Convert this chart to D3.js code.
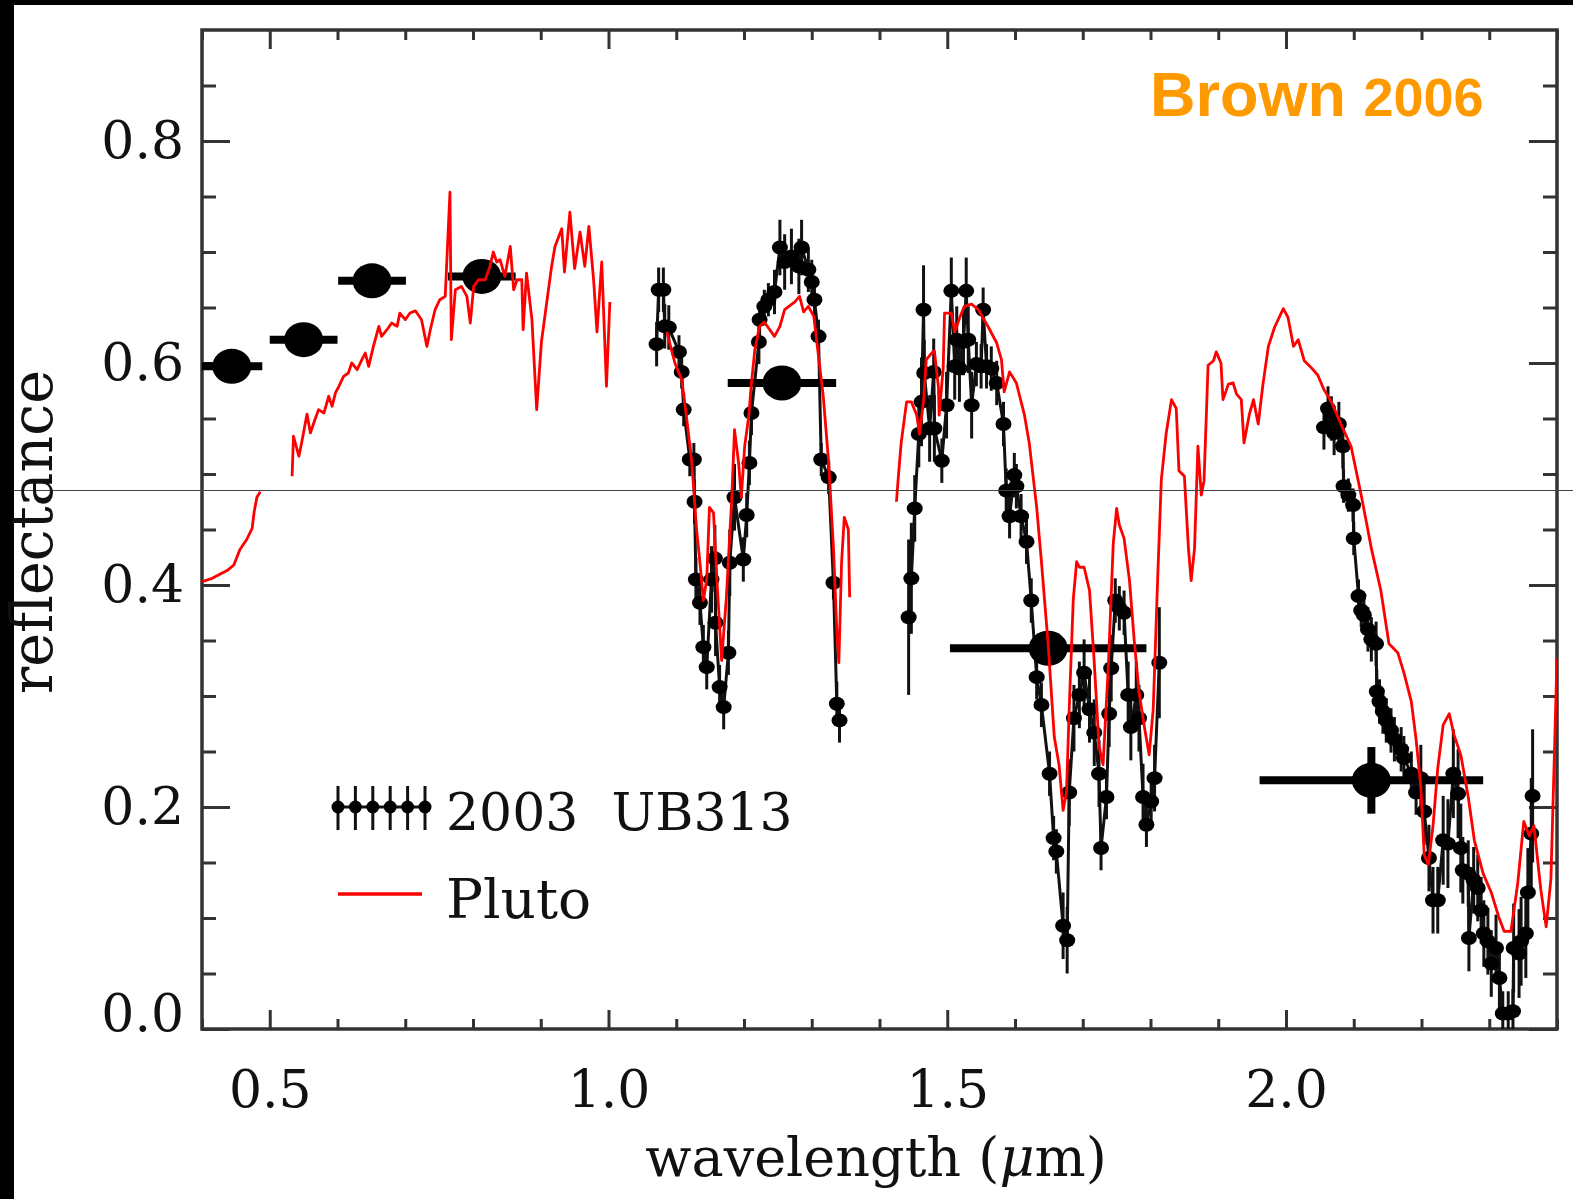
<!DOCTYPE html>
<html>
<head>
<meta charset="utf-8">
<script src="https://cdn.jsdelivr.net/npm/d3@7/dist/d3.min.js"></script>
<style>
    html, body { margin: 0; padding: 0; background: #fff; }
    svg { display: block; }
    .serif { font-family: "DejaVu Serif", "Liberation Serif", serif; fill: #111; }
</style>
</head>
<body>
<div id="root"></div>
<script>
// --- data (wavelength in µm, reflectance) ---

const xMajorTicks = [0.5, 1.0, 1.5, 2.0]
const yMajorTicks = [0.0, 0.2, 0.4, 0.6, 0.8]

// Pluto spectrum, four pieces with gaps between them
const plutoVis1 = [
    [0.400, 0.403], [0.415, 0.406], [0.437, 0.413], [0.447, 0.418], [0.456, 0.432],
    [0.466, 0.441], [0.474, 0.451], [0.477, 0.466], [0.481, 0.479], [0.486, 0.484]
]
const plutoVis2 = [
    [0.533, 0.498], [0.535, 0.534], [0.543, 0.516], [0.547, 0.528], [0.555, 0.554],
    [0.560, 0.537], [0.565, 0.546], [0.572, 0.558], [0.580, 0.555], [0.587, 0.570],
    [0.592, 0.561], [0.597, 0.573], [0.602, 0.579], [0.609, 0.588], [0.616, 0.591],
    [0.621, 0.600], [0.629, 0.594], [0.636, 0.603], [0.641, 0.609], [0.646, 0.597],
    [0.653, 0.615], [0.661, 0.633], [0.665, 0.624], [0.673, 0.630], [0.680, 0.636],
    [0.688, 0.633], [0.692, 0.645], [0.700, 0.639], [0.707, 0.645], [0.715, 0.647],
    [0.724, 0.639], [0.732, 0.615], [0.737, 0.630], [0.744, 0.648], [0.751, 0.657],
    [0.759, 0.660], [0.766, 0.754], [0.768, 0.621], [0.774, 0.666], [0.783, 0.669],
    [0.791, 0.660], [0.796, 0.636], [0.801, 0.669], [0.808, 0.675], [0.818, 0.675],
    [0.825, 0.687], [0.830, 0.700], [0.835, 0.691], [0.840, 0.693], [0.847, 0.678],
    [0.855, 0.705], [0.860, 0.666], [0.865, 0.675], [0.872, 0.675], [0.874, 0.630],
    [0.879, 0.681], [0.887, 0.639], [0.894, 0.558],
    [0.901, 0.619], [0.916, 0.687], [0.921, 0.705], [0.931, 0.721], [0.935, 0.682],
    [0.943, 0.736], [0.950, 0.685], [0.958, 0.718], [0.965, 0.687], [0.971, 0.723],
    [0.978, 0.675], [0.983, 0.628], [0.990, 0.691], [0.997, 0.579], [1.002, 0.655]
]
const plutoJ = [
    [1.086, 0.628], [1.098, 0.600], [1.108, 0.585], [1.115, 0.552], [1.123, 0.510],
    [1.130, 0.450], [1.135, 0.420], [1.140, 0.386], [1.145, 0.405], [1.149, 0.470],
    [1.155, 0.465], [1.160, 0.405], [1.167, 0.332], [1.174, 0.389], [1.182, 0.479],
    [1.186, 0.540], [1.192, 0.510], [1.196, 0.479], [1.201, 0.525], [1.207, 0.552],
    [1.211, 0.582], [1.216, 0.612], [1.223, 0.633], [1.230, 0.637], [1.238, 0.630],
    [1.245, 0.624], [1.253, 0.633], [1.260, 0.648], [1.275, 0.655], [1.282, 0.660],
    [1.288, 0.646], [1.295, 0.651], [1.303, 0.642], [1.310, 0.606], [1.317, 0.570],
    [1.325, 0.510], [1.332, 0.434], [1.337, 0.359], [1.340, 0.330], [1.344, 0.420],
    [1.348, 0.461], [1.354, 0.450], [1.356, 0.389]
]
const plutoHK = [
    [1.425, 0.475], [1.428, 0.499], [1.432, 0.528], [1.440, 0.565], [1.447, 0.565],
    [1.455, 0.553], [1.459, 0.536], [1.465, 0.565], [1.469, 0.603], [1.477, 0.609],
    [1.481, 0.611], [1.487, 0.578], [1.488, 0.553], [1.494, 0.595], [1.496, 0.645],
    [1.506, 0.645], [1.511, 0.628], [1.518, 0.640], [1.525, 0.651], [1.536, 0.653],
    [1.546, 0.648], [1.561, 0.632], [1.573, 0.618], [1.580, 0.603], [1.584, 0.574],
    [1.592, 0.592], [1.602, 0.582], [1.614, 0.553], [1.621, 0.528], [1.632, 0.470],
    [1.639, 0.421], [1.649, 0.346], [1.658, 0.263], [1.665, 0.238], [1.671, 0.197],
    [1.676, 0.213], [1.680, 0.288], [1.686, 0.387], [1.691, 0.421], [1.695, 0.416],
    [1.702, 0.416], [1.710, 0.395], [1.717, 0.330], [1.724, 0.255], [1.730, 0.238],
    [1.738, 0.330], [1.745, 0.437], [1.750, 0.469], [1.754, 0.454], [1.761, 0.442],
    [1.769, 0.404], [1.776, 0.350], [1.783, 0.304], [1.791, 0.272], [1.798, 0.247],
    [1.804, 0.288], [1.811, 0.413], [1.816, 0.495], [1.823, 0.536], [1.831, 0.567],
    [1.838, 0.559], [1.842, 0.503], [1.850, 0.498], [1.856, 0.433], [1.860, 0.404],
    [1.865, 0.433], [1.870, 0.525], [1.875, 0.481], [1.879, 0.494], [1.885, 0.598],
    [1.893, 0.602], [1.897, 0.610], [1.904, 0.600], [1.907, 0.567], [1.915, 0.581],
    [1.922, 0.582], [1.927, 0.572], [1.934, 0.567], [1.938, 0.528], [1.946, 0.554],
    [1.952, 0.567], [1.959, 0.545], [1.966, 0.581], [1.974, 0.615], [1.983, 0.632],
    [1.996, 0.649], [2.003, 0.641], [2.011, 0.615], [2.018, 0.621], [2.027, 0.602],
    [2.037, 0.596], [2.047, 0.589], [2.056, 0.576], [2.067, 0.565], [2.081, 0.545],
    [2.096, 0.525], [2.111, 0.481], [2.126, 0.433], [2.140, 0.395], [2.152, 0.347],
    [2.165, 0.339], [2.174, 0.321], [2.185, 0.295], [2.192, 0.261], [2.199, 0.218],
    [2.204, 0.157], [2.210, 0.148], [2.217, 0.183], [2.224, 0.235], [2.232, 0.274],
    [2.241, 0.284], [2.248, 0.265], [2.258, 0.247], [2.269, 0.209], [2.278, 0.170],
    [2.291, 0.140], [2.303, 0.123], [2.314, 0.101], [2.322, 0.088], [2.332, 0.088],
    [2.342, 0.131], [2.351, 0.187], [2.359, 0.174], [2.366, 0.183], [2.376, 0.126],
    [2.384, 0.092], [2.391, 0.135], [2.396, 0.244], [2.400, 0.334]
]

// 2003 UB313 spectrum: [wavelength, reflectance, error]
const ub313J = [
    [1.071, 0.617, 0.02], [1.074, 0.666, 0.02], [1.081, 0.666, 0.02], [1.083, 0.633, 0.02],
    [1.089, 0.632, 0.02], [1.104, 0.610, 0.015], [1.108, 0.592, 0.015], [1.111, 0.558, 0.015],
    [1.120, 0.513, 0.015], [1.126, 0.513, 0.015], [1.127, 0.475, 0.02], [1.129, 0.405, 0.02],
    [1.135, 0.384, 0.02], [1.140, 0.344, 0.02], [1.145, 0.326, 0.02], [1.152, 0.405, 0.03],
    [1.157, 0.424, 0.03], [1.158, 0.366, 0.03], [1.164, 0.308, 0.02], [1.170, 0.290, 0.02],
    [1.177, 0.339, 0.02], [1.179, 0.420, 0.03], [1.186, 0.479, 0.03], [1.199, 0.423, 0.02],
    [1.204, 0.463, 0.02], [1.208, 0.510, 0.02], [1.211, 0.555, 0.02], [1.222, 0.619, 0.02],
    [1.223, 0.639, 0.015], [1.230, 0.651, 0.015], [1.236, 0.657, 0.015], [1.245, 0.664, 0.02],
    [1.253, 0.704, 0.025], [1.260, 0.691, 0.025], [1.270, 0.696, 0.025], [1.281, 0.687, 0.025],
    [1.285, 0.704, 0.025], [1.295, 0.684, 0.02], [1.300, 0.673, 0.02], [1.304, 0.657, 0.015],
    [1.310, 0.624, 0.015], [1.314, 0.513, 0.015], [1.325, 0.497, 0.015], [1.332, 0.402, 0.015],
    [1.337, 0.293, 0.02], [1.341, 0.278, 0.02]
]
const ub313H = [
    [1.443, 0.371, 0.07], [1.447, 0.406, 0.05], [1.452, 0.469, 0.03], [1.458, 0.536, 0.03],
    [1.462, 0.565, 0.04], [1.465, 0.648, 0.04], [1.466, 0.591, 0.03], [1.474, 0.541, 0.03],
    [1.480, 0.592, 0.03], [1.481, 0.541, 0.03], [1.492, 0.512, 0.02], [1.499, 0.562, 0.03],
    [1.506, 0.665, 0.03], [1.511, 0.597, 0.03], [1.514, 0.621, 0.03], [1.518, 0.595, 0.03],
    [1.524, 0.619, 0.03], [1.528, 0.665, 0.03], [1.531, 0.621, 0.03], [1.536, 0.562, 0.03],
    [1.543, 0.599, 0.02], [1.550, 0.597, 0.02], [1.553, 0.648, 0.02], [1.558, 0.597, 0.02],
    [1.565, 0.595, 0.02], [1.573, 0.582, 0.02], [1.583, 0.545, 0.02], [1.587, 0.485, 0.02],
    [1.592, 0.462, 0.02], [1.599, 0.499, 0.02], [1.602, 0.489, 0.02], [1.609, 0.462, 0.02],
    [1.617, 0.439, 0.02], [1.624, 0.386, 0.02], [1.632, 0.317, 0.02], [1.639, 0.292, 0.02],
    [1.651, 0.230, 0.02], [1.657, 0.172, 0.02], [1.661, 0.160, 0.02], [1.671, 0.093, 0.03],
    [1.677, 0.080, 0.03], [1.680, 0.213, 0.03], [1.687, 0.280, 0.03], [1.695, 0.301, 0.03],
    [1.702, 0.321, 0.03], [1.710, 0.288, 0.03], [1.717, 0.267, 0.03], [1.724, 0.230, 0.03],
    [1.727, 0.163, 0.02], [1.735, 0.209, 0.02], [1.739, 0.284, 0.03], [1.742, 0.325, 0.03],
    [1.748, 0.386, 0.02], [1.754, 0.379, 0.02], [1.761, 0.375, 0.02], [1.767, 0.301, 0.03],
    [1.771, 0.272, 0.03], [1.779, 0.301, 0.03], [1.783, 0.280, 0.03], [1.789, 0.209, 0.03],
    [1.794, 0.184, 0.02], [1.801, 0.205, 0.02], [1.806, 0.226, 0.03], [1.813, 0.330, 0.05]
]
const ub313K = [
    [2.056, 0.542, 0.02], [2.062, 0.559, 0.02], [2.067, 0.550, 0.02], [2.071, 0.537, 0.02],
    [2.078, 0.545, 0.02], [2.084, 0.525, 0.02], [2.085, 0.489, 0.015], [2.092, 0.481, 0.015],
    [2.099, 0.472, 0.015], [2.100, 0.442, 0.015], [2.107, 0.390, 0.015], [2.111, 0.377, 0.015],
    [2.115, 0.373, 0.015], [2.121, 0.360, 0.02], [2.126, 0.351, 0.02], [2.133, 0.347, 0.02],
    [2.134, 0.304, 0.02], [2.138, 0.295, 0.02], [2.143, 0.286, 0.02], [2.148, 0.278, 0.02],
    [2.155, 0.269, 0.02], [2.160, 0.261, 0.02], [2.170, 0.252, 0.02], [2.174, 0.244, 0.02],
    [2.185, 0.230, 0.02], [2.192, 0.213, 0.02], [2.199, 0.226, 0.03], [2.204, 0.196, 0.03],
    [2.211, 0.154, 0.03], [2.217, 0.116, 0.03], [2.224, 0.116, 0.03], [2.232, 0.170, 0.04],
    [2.239, 0.167, 0.04], [2.247, 0.230, 0.04], [2.254, 0.212, 0.04], [2.258, 0.163, 0.04],
    [2.261, 0.143, 0.03], [2.269, 0.140, 0.03], [2.270, 0.082, 0.03], [2.277, 0.134, 0.03],
    [2.283, 0.127, 0.03], [2.288, 0.107, 0.03], [2.292, 0.086, 0.03], [2.298, 0.079, 0.03],
    [2.303, 0.059, 0.03], [2.310, 0.073, 0.03], [2.315, 0.046, 0.03], [2.320, 0.014, 0.02],
    [2.328, 0.014, 0.02], [2.335, 0.016, 0.02], [2.336, 0.073, 0.04], [2.344, 0.068, 0.04],
    [2.347, 0.079, 0.04], [2.354, 0.086, 0.04], [2.357, 0.123, 0.04], [2.362, 0.176, 0.05],
    [2.364, 0.210, 0.06]
]

// broadband photometry: [wavelength, reflectance, half bandwidth, y error]
const ub313Phot = [
    [0.444, 0.597, 0.045, 0], [0.550, 0.621, 0.050, 0], [0.651, 0.674, 0.050, 0],
    [0.813, 0.678, 0.050, 0], [1.256, 0.582, 0.080, 0], [1.649, 0.343, 0.145, 0],
    [2.126, 0.224, 0.165, 0.03]
]

// --- drawing ---

const W = 1573, H = 1199
const box = {left: 202, right: 1557, top: 30, bottom: 1029}
const FRAME = "#333"

const x = d3.scaleLinear().domain([0.4, 2.4]).range([box.left, box.right])
const y = d3.scaleLinear().domain([0, 0.9]).range([box.bottom, box.top])

const svg = d3.select("#root").append("svg").attr("width", W).attr("height", H)

svg.append("rect").attr("width", W).attr("height", H).attr("fill", "#fff")
// dark border left over from the slide
svg.append("rect").attr("x", 0).attr("y", 0).attr("width", 14).attr("height", H).attr("fill", "#000")
svg.append("rect").attr("x", 0).attr("y", 0).attr("width", W).attr("height", 5).attr("fill", "#000")

svg.append("clipPath").attr("id", "plotclip")
   .append("rect")
   .attr("x", box.left).attr("y", box.top)
   .attr("width", box.right - box.left).attr("height", box.bottom - box.top)

const fmt = d3.format(".1f")
const xMinor = d3.range(0.4, 2.41, 0.1).map(v => +v.toFixed(2)).filter(v => Math.abs(v * 2 - Math.round(v * 2)) > 1e-6)
const yMinor = d3.range(0.05, 0.9, 0.05).map(v => +v.toFixed(2)).filter(v => Math.abs(v * 5 - Math.round(v * 5)) > 1e-6)

function styleAxis (g) {
    g.select(".domain").remove()
    g.selectAll(".tick line").attr("stroke", FRAME).attr("stroke-width", 3)
    g.selectAll(".tick text").attr("class", "serif").attr("font-size", 52).attr("fill", "#111")
}

// bottom / top
svg.append("g").attr("transform", `translate(0,${box.bottom})`)
   .call(d3.axisBottom(x).tickValues(xMajorTicks).tickFormat(fmt).tickSize(-19).tickPadding(41))
   .call(styleAxis)
svg.append("g").attr("transform", `translate(0,${box.bottom})`)
   .call(d3.axisBottom(x).tickValues(xMinor).tickFormat("").tickSize(-10))
   .call(styleAxis)
svg.append("g").attr("transform", `translate(0,${box.top})`)
   .call(d3.axisTop(x).tickValues(xMajorTicks).tickFormat("").tickSize(-19))
   .call(styleAxis)
svg.append("g").attr("transform", `translate(0,${box.top})`)
   .call(d3.axisTop(x).tickValues(xMinor).tickFormat("").tickSize(-10))
   .call(styleAxis)

// left / right
const yAxisL = svg.append("g").attr("transform", `translate(${box.left},0)`)
   .call(d3.axisLeft(y).tickValues(yMajorTicks).tickFormat(fmt).tickSize(-28).tickPadding(18))
   .call(styleAxis)
// IDL lifts the bottom label off the corner
yAxisL.selectAll(".tick text").filter(d => d === 0).attr("dy", "0em").attr("y", 1)
svg.append("g").attr("transform", `translate(${box.left},0)`)
   .call(d3.axisLeft(y).tickValues(yMinor).tickFormat("").tickSize(-14))
   .call(styleAxis)
svg.append("g").attr("transform", `translate(${box.right},0)`)
   .call(d3.axisRight(y).tickValues(yMajorTicks).tickFormat("").tickSize(-28))
   .call(styleAxis)
svg.append("g").attr("transform", `translate(${box.right},0)`)
   .call(d3.axisRight(y).tickValues(yMinor).tickFormat("").tickSize(-14))
   .call(styleAxis)

// frame
svg.append("rect")
   .attr("x", box.left).attr("y", box.top)
   .attr("width", box.right - box.left).attr("height", box.bottom - box.top)
   .attr("fill", "none").attr("stroke", FRAME).attr("stroke-width", 3.5)

const plot = svg.append("g").attr("clip-path", "url(#plotclip)")

// UB313 spectrum: error bars, connecting line, dots
const line = d3.line().x(d => x(d[0])).y(d => y(d[1]))
;[ub313J, ub313H, ub313K].forEach(seg => {
    plot.append("g").selectAll("line").data(seg).join("line")
        .attr("x1", d => x(d[0])).attr("x2", d => x(d[0]))
        .attr("y1", d => y(d[1] - d[2])).attr("y2", d => y(d[1] + d[2]))
        .attr("stroke", "#111").attr("stroke-width", 3)
    plot.append("path").datum(seg).attr("d", line)
        .attr("fill", "none").attr("stroke", "#111").attr("stroke-width", 3)
    plot.append("g").selectAll("ellipse").data(seg).join("ellipse")
        .attr("cx", d => x(d[0])).attr("cy", d => y(d[1]))
        .attr("rx", 8).attr("ry", 7).attr("fill", "#000")
})

// photometry
const phot = plot.append("g").selectAll("g").data(ub313Phot).join("g")
phot.append("line")
    .attr("x1", d => x(d[0] - d[2])).attr("x2", d => x(d[0] + d[2]))
    .attr("y1", d => y(d[1])).attr("y2", d => y(d[1]))
    .attr("stroke", "#000").attr("stroke-width", 8)
phot.filter(d => d[3] > 0).append("line")
    .attr("x1", d => x(d[0])).attr("x2", d => x(d[0]))
    .attr("y1", d => y(d[1] - d[3])).attr("y2", d => y(d[1] + d[3]))
    .attr("stroke", "#000").attr("stroke-width", 8)
phot.append("ellipse")
    .attr("cx", d => x(d[0])).attr("cy", d => y(d[1]))
    .attr("rx", 19.5).attr("ry", 17.5).attr("fill", "#000")

// Pluto on top
;[plutoVis1, plutoVis2, plutoJ, plutoHK].forEach(seg => {
    plot.append("path").datum(seg).attr("d", line)
        .attr("fill", "none").attr("stroke", "#ff0000")
        .attr("stroke-width", 2.8).attr("stroke-linejoin", "round")
})

// thin guide line crossing the whole picture
svg.append("line").attr("x1", 14).attr("x2", W).attr("y1", 490.5).attr("y2", 490.5)
   .attr("stroke", "#444").attr("stroke-width", 1)

// axis titles
svg.append("text").attr("class", "serif")
   .attr("x", 876).attr("y", 1176).attr("text-anchor", "middle").attr("font-size", 54)
   .html('wavelength (<tspan font-style="italic">μ</tspan>m)')
svg.append("text").attr("class", "serif")
   .attr("transform", "translate(52,532) rotate(-90)")
   .attr("text-anchor", "middle").attr("font-size", 57)
   .text("reflectance")

// legend
const lg = svg.append("g")
const lgX = d3.range(6).map(i => 338 + i * 17.4)
lg.append("line").attr("x1", lgX[0]).attr("x2", lgX[5]).attr("y1", 807).attr("y2", 807)
  .attr("stroke", "#111").attr("stroke-width", 3)
lg.selectAll(".eb").data(lgX).join("line")
  .attr("x1", d => d).attr("x2", d => d).attr("y1", 786).attr("y2", 830)
  .attr("stroke", "#111").attr("stroke-width", 3)
lg.selectAll("circle").data(lgX).join("circle")
  .attr("cx", d => d).attr("cy", 807).attr("r", 6.5).attr("fill", "#000")
lg.append("text").attr("class", "serif").attr("x", 446).attr("y", 830)
  .attr("font-size", 52).attr("xml:space", "preserve").text("2003  UB313")
lg.append("line").attr("x1", 338).attr("x2", 422).attr("y1", 894).attr("y2", 894)
  .attr("stroke", "#ff0000").attr("stroke-width", 3.5)
lg.append("text").attr("class", "serif").attr("x", 446).attr("y", 918)
  .attr("font-size", 55).text("Pluto")

// source tag
const tag = svg.append("text").attr("x", 1150).attr("y", 116)
   .attr("font-family", "'Liberation Sans', Arial, sans-serif").attr("font-weight", "bold")
   .attr("fill", "#ff9900")
tag.append("tspan").attr("font-size", 63).text("Brown ")
tag.append("tspan").attr("font-size", 54).text("2006")
</script>
</body>
</html>
